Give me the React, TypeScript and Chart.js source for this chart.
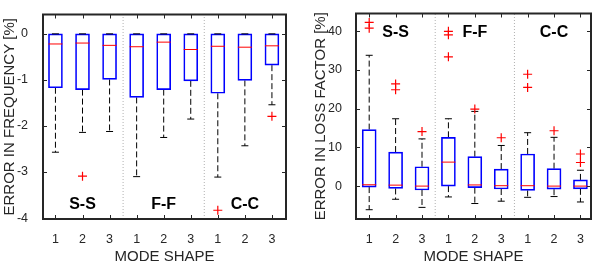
import React, { useEffect, useRef } from "react";
import { Chart, registerables } from "chart.js";

Chart.register(...registerables);

const FONT = "'Liberation Sans', Arial, Helvetica, sans-serif";
Chart.defaults.font.family = FONT;

// ---------- shared categories ----------
const positions = [1, 2, 3, 4, 5, 6, 7, 8, 9];
const modeTicks = ["1", "2", "3", "1", "2", "3", "1", "2", "3"];
const groupNames = ["S-S", "F-F", "C-C"];
const groupCenters = [2, 5, 8];
const dividers = [3.5, 6.5];

// ---------- left: error in frequency [%] ----------
const freqQ1 = [-1.17, -1.21, -0.99, -1.38, -1.21, -1.02, -1.29, -1.01, -0.68];
const freqQ3 = [0, 0, 0, 0, 0, 0, 0, 0, 0];
const freqMed = [-0.22, -0.2, -0.25, -0.28, -0.18, -0.34, -0.27, -0.29, -0.26];
const freqLo = [-2.57, -2.14, -2.12, -3.1, -2.25, -1.85, -3.11, -2.43, -1.54];
const freqHi = [0, 0, 0, 0, 0, 0, 0, 0, 0];
const freqOutX = [2, 7, 9];
const freqOutY = [-3.09, -3.83, -1.79];
const freqYTicks = [0, -1, -2, -3, -4];

// ---------- right: error in loss factor [%] ----------
const lossQ1 = [-0.25, -0.6, -1.0, 0.0, -0.4, -0.75, -1.1, -0.8, -0.7];
const lossQ3 = [14.6, 8.8, 5.0, 12.6, 7.6, 4.4, 8.3, 4.5, 1.6];
const lossMed = [0.35, 0.25, 0.0, 6.2, 0.3, 0.1, 0.1, 0.0, 0.0];
const lossLo = [-6.1, -3.4, -5.5, -2.8, -4.5, -3.9, -2.9, -2.7, -4.1];
const lossHi = [33.8, 17.4, 12.2, 17.4, 19.3, 10.5, 13.8, 12.6, 4.1];
const lossOutX = [1, 1, 2, 2, 3, 4, 4, 4, 5, 6, 7, 7, 8, 9, 9];
const lossOutY = [42.3, 40.8, 26.4, 24.9, 14.1, 40.0, 39.1, 33.4, 19.9, 12.5, 28.9, 25.5, 14.3, 8.3, 6.1];
const lossYTicks = [0, 10, 20, 30, 40];

type Spec = {
  q1: number[]; q3: number[]; med: number[]; lo: number[]; hi: number[];
  outX: number[]; outY: number[]; yTicks: number[];
  yTitle: string;
  xMin: number; xMax: number; yMin: number; yMax: number;
  yAxisWidth: number; padRight: number; yTitlePad: number; yTickPad: number;
  groupY: number;
  width: number; height: number;
};

const AXIS_COLOR = "#262626";

function buildConfig(spec: Spec): any {
  const whiskerData: any[] = [];
  const capData: any[] = [];
  positions.forEach((p, i) => {
    whiskerData.push({ x: p, y: spec.q1[i] }, { x: p, y: spec.lo[i] }, { x: p, y: null });
    whiskerData.push({ x: p, y: spec.q3[i] }, { x: p, y: spec.hi[i] }, { x: p, y: null });
    capData.push({ x: p, y: spec.lo[i] }, { x: p, y: spec.hi[i] });
  });
  const dividerData: any[] = [];
  dividers.forEach((d) => {
    dividerData.push({ x: d, y: spec.yMin }, { x: d, y: spec.yMax }, { x: d, y: null });
  });

  const framePlugin = {
    id: "frame",
    afterDraw(chart: any) {
      const { ctx, chartArea: a } = chart;
      const xs = chart.scales.x;
      const ys = chart.scales.y;
      ctx.save();
      ctx.strokeStyle = AXIS_COLOR;
      ctx.lineWidth = 1;
      ctx.beginPath();
      xs.ticks.forEach((t: any) => {
        const px = Math.round(xs.getPixelForValue(t.value)) + 0.5;
        ctx.moveTo(px, a.bottom); ctx.lineTo(px, a.bottom - 4);
        ctx.moveTo(px, a.top); ctx.lineTo(px, a.top + 4);
      });
      ys.ticks.forEach((t: any) => {
        const py = Math.round(ys.getPixelForValue(t.value)) + 0.5;
        ctx.moveTo(a.left, py); ctx.lineTo(a.left + 4, py);
        ctx.moveTo(a.right, py); ctx.lineTo(a.right - 4, py);
      });
      ctx.stroke();
      ctx.lineWidth = 2;
      ctx.strokeRect(a.left, a.top, a.right - a.left, a.bottom - a.top);
      ctx.fillStyle = "#000";
      ctx.font = `bold 16px ${FONT}`;
      ctx.textAlign = "center";
      ctx.textBaseline = "middle";
      groupNames.forEach((n, i) => {
        ctx.fillText(n, xs.getPixelForValue(groupCenters[i]), ys.getPixelForValue(spec.groupY));
      });
      ctx.restore();
    },
  };

  return {
    type: "bar",
    data: {
      datasets: [
        {
          type: "scatter",
          data: spec.outX.map((x, i) => ({ x, y: spec.outY[i] })),
          pointStyle: "cross",
          pointRadius: 4.5,
          borderColor: "#ff0000",
          backgroundColor: "#ff0000",
          borderWidth: 1.2,
        },
        {
          type: "scatter",
          data: positions.map((x, i) => ({ x, y: spec.med[i] })),
          pointStyle: "line",
          pointRadius: 7,
          borderColor: "#ff0000",
          borderWidth: 1,
        },
        {
          type: "scatter",
          data: capData,
          pointStyle: "line",
          pointRadius: 3.5,
          borderColor: "#000000",
          borderWidth: 1,
        },
        {
          type: "bar",
          data: positions.map((x, i) => ({ x, y: [spec.q1[i], spec.q3[i]] })),
          backgroundColor: "rgba(255,255,255,0)",
          borderColor: "#0000ff",
          borderWidth: 1,
          borderSkipped: false,
          barThickness: 14,
        },
        {
          type: "line",
          data: whiskerData,
          borderColor: "#000000",
          borderWidth: 1,
          borderDash: [6, 3],
          pointRadius: 0,
          spanGaps: false,
          fill: false,
        },
        {
          type: "line",
          data: dividerData,
          borderColor: "#b0b0b0",
          borderWidth: 1,
          borderDash: [1, 2],
          pointRadius: 0,
          spanGaps: false,
          fill: false,
        },
      ],
    },
    options: {
      responsive: false,
      animation: false,
      events: [],
      layout: { padding: { top: 9, right: spec.padRight, bottom: 0, left: 0 } },
      plugins: { legend: { display: false }, tooltip: { enabled: false } },
      scales: {
        x: {
          type: "linear",
          min: spec.xMin,
          max: spec.xMax,
          offset: false,
          grid: { display: false },
          border: { display: false },
          afterBuildTicks: (s: any) => { s.ticks = positions.map((v) => ({ value: v })); },
          afterFit: (s: any) => { s.height = 48; },
          ticks: {
            autoSkip: false,
            maxRotation: 0,
            padding: 5,
            color: AXIS_COLOR,
            font: { size: 12.5 },
            callback: (v: any) => modeTicks[Math.round(v) - 1],
          },
          title: {
            display: true,
            text: "MODE SHAPE",
            color: AXIS_COLOR,
            font: { size: 15 },
            padding: { top: 0, bottom: 1 },
          },
        },
        y: {
          type: "linear",
          min: spec.yMin,
          max: spec.yMax,
          grid: { display: false },
          border: { display: false },
          afterBuildTicks: (s: any) => { s.ticks = spec.yTicks.map((v) => ({ value: v })); },
          afterFit: (s: any) => { s.width = spec.yAxisWidth; },
          ticks: {
            padding: spec.yTickPad,
            color: AXIS_COLOR,
            font: { size: 12.5 },
          },
          title: {
            display: true,
            text: spec.yTitle,
            color: AXIS_COLOR,
            font: { size: 15 },
            padding: { top: spec.yTitlePad, bottom: 0 },
          },
        },
      },
    },
    plugins: [framePlugin],
  };
}

function BoxChart({ spec, left }: { spec: Spec; left: number }) {
  const ref = useRef<HTMLCanvasElement | null>(null);
  useEffect(() => {
    if (!ref.current) return;
    const chart = new Chart(ref.current, buildConfig(spec));
    return () => chart.destroy();
  }, [spec]);
  return (
    <canvas
      ref={ref}
      width={spec.width}
      height={spec.height}
      style={{ position: "absolute", left, top: 0, width: spec.width, height: spec.height }}
    />
  );
}

const freqSpec: Spec = {
  q1: freqQ1, q3: freqQ3, med: freqMed, lo: freqLo, hi: freqHi,
  outX: freqOutX, outY: freqOutY, yTicks: freqYTicks,
  yTitle: "ERROR IN FREQUENCY [%]",
  xMin: 0.54, xMax: 9.52, yMin: -4.02, yMax: 0.42,
  yAxisWidth: 43, padRight: 14, yTitlePad: 1, yTickPad: 7,
  groupY: -3.71,
  width: 300, height: 267,
};

const lossSpec: Spec = {
  q1: lossQ1, q3: lossQ3, med: lossMed, lo: lossLo, hi: lossHi,
  outX: lossOutX, outY: lossOutY, yTicks: lossYTicks,
  yTitle: "ERROR IN LOSS FACTOR [%]",
  xMin: 0.5, xMax: 9.4, yMin: -8.5, yMax: 44.6,
  yAxisWidth: 56, padRight: 4, yTitlePad: 12, yTickPad: 6,
  groupY: 39.6,
  width: 299, height: 267,
};

export default function App() {
  return (
    <div style={{ position: "absolute", left: 0, top: 0, width: 599, height: 267, background: "#fff" }}>
      <BoxChart spec={freqSpec} left={0} />
      <BoxChart spec={lossSpec} left={300} />
    </div>
  );
}
